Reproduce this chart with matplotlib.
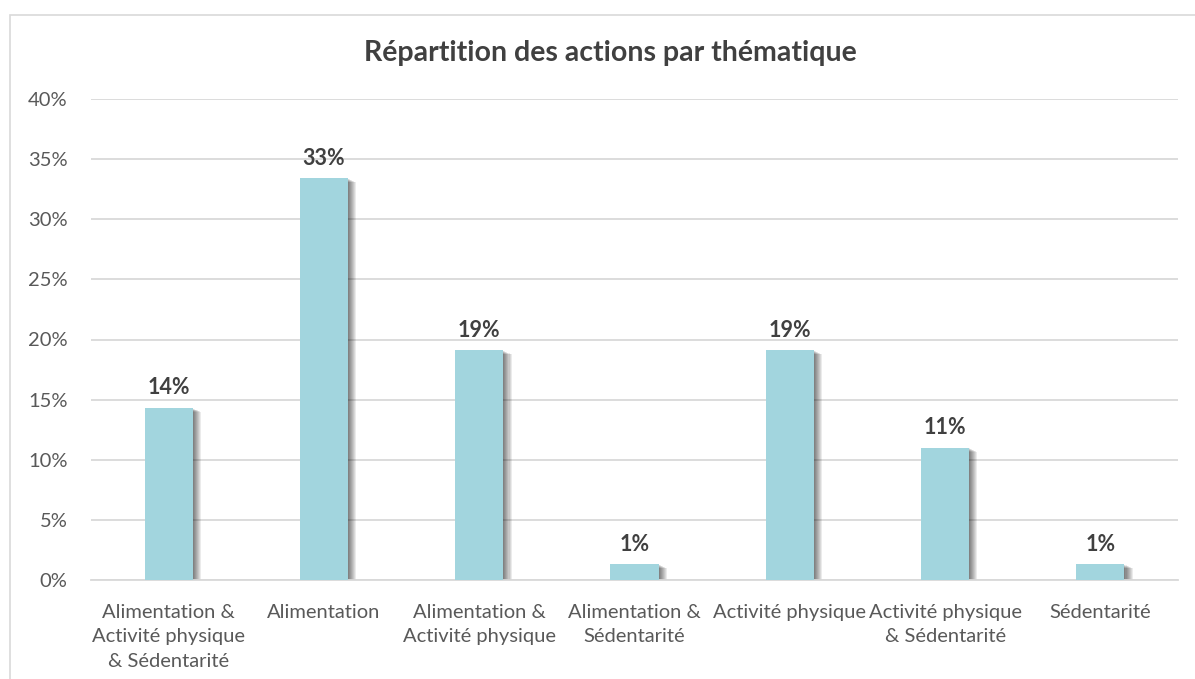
import matplotlib
matplotlib.use("Agg")
import matplotlib.pyplot as plt
from matplotlib.patches import Rectangle
from matplotlib.transforms import ScaledTranslation

# --- Data ---
categories = [
    "Alimentation &\nActivité physique\n& Sédentarité",
    "Alimentation",
    "Alimentation &\nActivité physique",
    "Alimentation &\nSédentarité",
    "Activité physique",
    "Activité physique\n& Sédentarité",
    "Sédentarité",
]
values = [14.3, 33.4, 19.1, 1.3, 19.1, 11.0, 1.3]
labels = ["14%", "33%", "19%", "1%", "19%", "11%", "1%"]
yticks = [0, 5, 10, 15, 20, 25, 30, 35, 40]

BAR_COLOR = "#A2D5DE"
TEXT_COLOR = "#595959"
GRID_COLOR = "#D9D9D9"

plt.rcParams["font.family"] = ["Lato", "DejaVu Sans"]

fig = plt.figure(figsize=(11.95, 6.79), dpi=100)
ax = fig.add_axes([91 / 1195, 1 - 580 / 679, (1178 - 91) / 1195, (580 - 99) / 679])

# outer chart frame
fig.patches.append(Rectangle((10 / 1195, -0.05), 1.1, 1 - 15 / 679 + 0.05,
                             transform=fig.transFigure, fill=False,
                             edgecolor=GRID_COLOR, linewidth=1.2))

x = list(range(len(categories)))
width = 0.31

# soft drop shadow: stacked offset bars with low alpha
for i in range(1, 9):
    off = ScaledTranslation(i * 0.75 / 72, -i * 0.35 / 72, fig.dpi_scale_trans)
    ax.bar(x, values, width=width, color="black", alpha=0.08,
           transform=ax.transData + off, zorder=2, linewidth=0)

ax.bar(x, values, width=width, color=BAR_COLOR, zorder=3, linewidth=0)

for xi, v, lab in zip(x, values, labels):
    ax.annotate(lab, (xi, v), xytext=(0, 7), textcoords="offset points",
                ha="center", va="bottom", fontsize=15.5, fontweight="bold",
                color="#404040")

ax.set_xlim(-0.5, len(categories) - 0.5)
ax.set_ylim(0, 40)
ax.set_yticks(yticks)
ax.set_yticklabels([f"{t}%" for t in yticks], fontsize=14.5)
ax.set_xticks(x)
ax.set_xticklabels(categories, linespacing=1.55, fontsize=14.5)

ax.grid(axis="y", color=GRID_COLOR, linewidth=1.3, zorder=0)
ax.set_axisbelow(True)
for side in ["top", "right", "left"]:
    ax.spines[side].set_visible(False)
ax.spines["bottom"].set_color(GRID_COLOR)
ax.spines["bottom"].set_linewidth(1.3)
ax.tick_params(axis="both", length=0, colors=TEXT_COLOR)
ax.tick_params(axis="y", pad=17)
ax.tick_params(axis="x", pad=17)

fig.text(610 / 1195, 1 - 53 / 679, "Répartition des actions par thématique",
         ha="center", va="center", fontsize=20.5, fontweight="bold",
         color="#404040")

fig.savefig("out.png", dpi=100)
plt.close(fig)
